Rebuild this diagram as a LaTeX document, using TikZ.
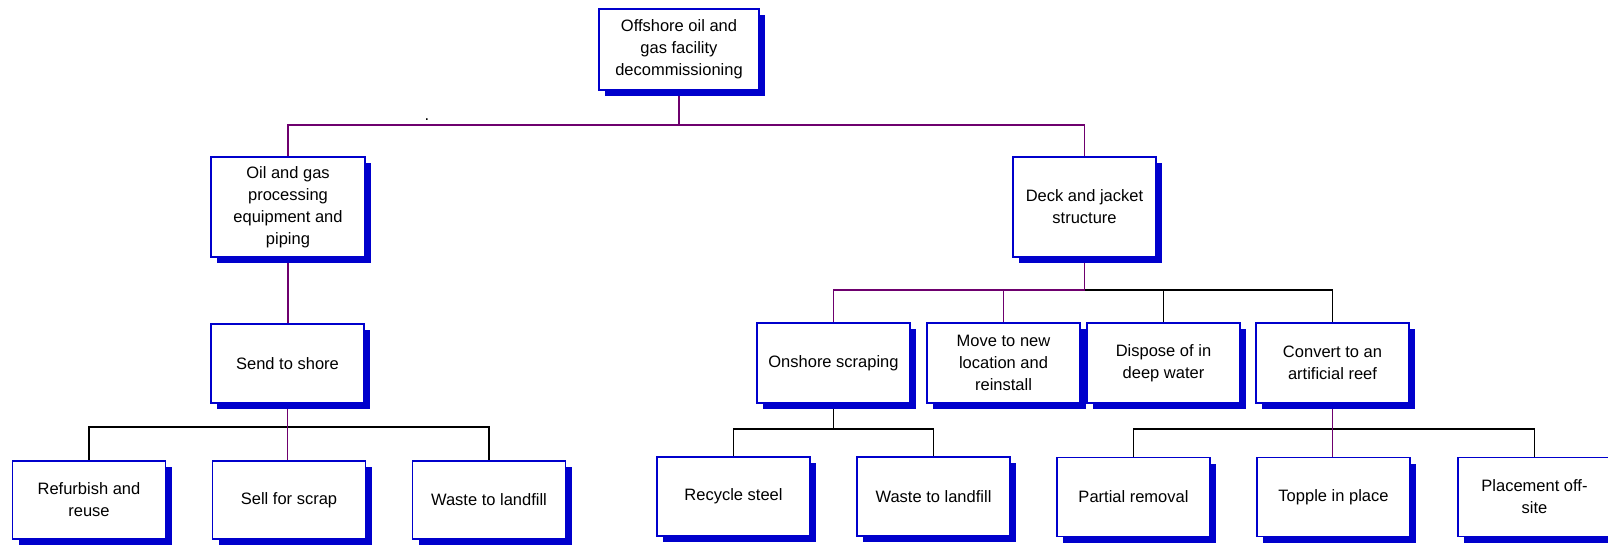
\documentclass[tikz,border=0pt]{standalone}
\usepackage{fontspec}
\setmainfont{Liberation Sans}
\usetikzlibrary{positioning}
\usetikzlibrary{shadows}
\usetikzlibrary{backgrounds}

\definecolor{boxblue}{RGB}{0,0,204}
\definecolor{linkpurple}{RGB}{110,0,110}

\begin{document}
\begin{tikzpicture}[
                x = 1pt, y = -1pt,
                box/.style = {
                    draw = boxblue,
                    fill = white,
                    line width = 1.5pt,
                    align = center,
                    inner sep = 0pt,
                    outer sep = 0pt,
                    minimum width = #1,
                    minimum height = 79pt,
                    font = \fontsize{16.5}{22}\selectfont,
                    drop shadow = {shadow xshift = 6pt, shadow yshift = -6pt,
                                   fill = boxblue, opacity = 1}
                },
                box/.default = 153pt,
                link/.style = {draw = linkpurple, line width = 1.8pt},
                tie/.style = {draw = black, line width = 1.8pt},
                node distance = {47pt}
            ]

            \useasboundingbox (0,0) rectangle (1608,545);

            \node[box=160pt, minimum height=81pt] (root) at (679,49.5) {Offshore oil and\\gas facility\\decommissioning};

            \node[box=154pt, minimum height=100pt] (oil) at (288,207) {Oil and gas\\processing\\equipment and\\piping};
            \node[box=143pt, minimum height=100pt] (deck) at (1084.5,207) {Deck and jacket\\structure};

            \node[box] (shore) at (287.5,363.5) {Send to shore};

            \node[box, minimum height=80pt] (onshore) at (833.5,363) {Onshore scraping};
            \node[box, minimum height=80pt] (move) [right=17pt of onshore] {Move to new\\location and\\reinstall};
            \node[box, minimum height=80pt] (dispose) [right=7pt of move] {Dispose of in\\deep water};
            \node[box, minimum height=80pt] (convert) [right=16pt of dispose] {Convert to an\\artificial reef};

            \node[box, minimum height=78pt] (refurbish) at (89,500) {Refurbish and\\reuse};
            \node[box, minimum height=78pt] (sell) [right=of refurbish] {Sell for scrap};
            \node[box, minimum height=78pt] (landfill) [right=of sell] {Waste to landfill};

            \node[box] (recycle) at (733.5,496.5) {Recycle steel};
            \node[box] (waste) [right=of recycle] {Waste to landfill};

            \node[box] (partial) at (1133.5,497) {Partial removal};
            \node[box] (topple) [right=of partial] {Topple in place};
            \node[box] (placement) [right=48pt of topple] {Placement off-\\site};

            \node[font=\fontsize{16.5}{22}\selectfont, inner sep=0pt, anchor=base] (dot) at (427,121) {.};

            \coordinate (top) at (679,125);
            \coordinate (mid) at (1084.5,290);
            \coordinate (left) at (288,427);
            \coordinate (low) at (833.5,429);
            \coordinate (reef) at (1333,429);

            % connectors go under the boxes and their shadows
            \begin{scope}[on background layer]
                \draw[tie] (refurbish.north) |- (left) -| (landfill.north);
                \draw[tie] (onshore.south) -- (low);
                \draw[tie] (recycle.north) |- (low) -| (waste.north);
                \draw[tie] (partial.north) |- (reef) -| (placement.north);
                \draw[tie] (mid) -| (convert.north);
                \draw[tie] (dispose.north) -- (dispose.north |- mid);

                \draw[link] (root.south) -- (top);
                \draw[link] (oil.north) |- (top) -| (deck.north);
                \draw[link] (oil.south) -- (oil.south |- shore.north);
                \draw[link] (shore.south) -- (shore.south |- sell.north);
                \draw[link] (deck.south) -- (mid);
                \draw[link] (onshore.north) |- (mid);
                \draw[link] (move.north) -- (move.north |- mid);
                \draw[link] (convert.south) -- (convert.south |- topple.north);
            \end{scope}

         \end{tikzpicture}
\end{document}
